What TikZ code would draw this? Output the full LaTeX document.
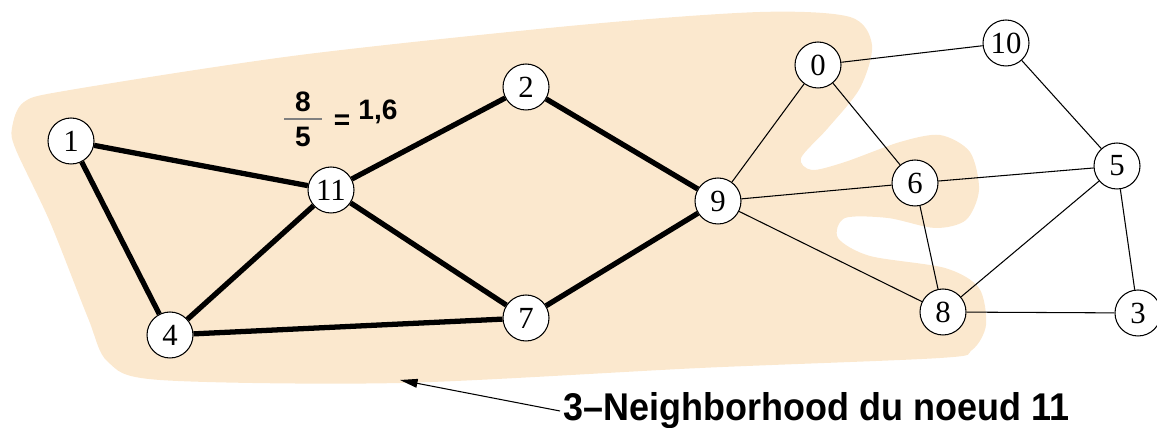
\documentclass[tikz,border=0pt]{standalone}
\usepackage{fontspec}
\setmainfont{Liberation Serif}
\newfontfamily\capfont[Ligatures=TeX]{Liberation Sans}
\usetikzlibrary{arrows.meta, positioning}
\definecolor{peach}{HTML}{FBE8CE}
\definecolor{ink}{HTML}{000000}

\begin{document}
\begin{tikzpicture}[
    x=0.02cm, y=-0.02cm,
    vertex/.style={circle, draw=ink, fill=white, line width=0.6pt,
      minimum size=0.92cm, inner sep=0pt, font=\fontsize{17.5}{20}\selectfont},
    heavy/.style={line width=3pt},
    light/.style={line width=0.6pt},
    ratio/.style={font=\capfont\bfseries\fontsize{16}{19}\selectfont},
  ]
  \useasboundingbox (0,0) rectangle (1157,428);

  % Neighborhood region
  \fill[peach] plot[smooth cycle, tension=0.5] coordinates {
    (12,128) (24,102) (70,90) (300,55) (580,25) (760,12) (850,17)
    (872,45) (860,88) (828,128) (801,158) (812,170) (845,162)
    (900,142) (940,135) (970,152) (979,190) (966,220) (935,228)
    (888,218) (845,218) (838,238) (870,256) (945,268) (979,288)
    (986,325) (972,350) (940,358) (700,368) (400,383) (160,380)
    (108,362) (88,318) (50,222) (16,150)};

  % Vertices
  \node[vertex] (n0)  at (818,65)  {0};
  \node[vertex] (n1)  at (71,141)  {1};
  \node[vertex] (n2)  at (526,87)  {2};
  \node[vertex] (n3)  at (1138,313) {3};
  \node[vertex] (n4)  at (170,335) {4};
  \node[vertex] (n5)  at (1117,166) {5};
  \node[vertex] (n6)  at (915,183) {6};
  \node[vertex] (n7)  at (526,318) {7};
  \node[vertex] (n8)  at (943,312) {8};
  \node[vertex] (n9)  at (718,201) {9};
  \node[vertex] (n10) at (1006,43) {10};
  \node[vertex] (n11) at (331,190) {11};

  % Edges inside the 3-neighborhood
  \draw[heavy] (n1) -- (n11);
  \draw[heavy] (n1) -- (n4);
  \draw[heavy] (n11) -- (n2);
  \draw[heavy] (n11) -- (n4);
  \draw[heavy] (n11) -- (n7);
  \draw[heavy] (n4) -- (n7);
  \draw[heavy] (n2) -- (n9);
  \draw[heavy] (n7) -- (n9);

  % Remaining edges
  \draw[light] (n9) -- (n0);
  \draw[light] (n9) -- (n6);
  \draw[light] (n9) -- (n8);
  \draw[light] (n0) -- (n6);
  \draw[light] (n0) -- (n10);
  \draw[light] (n10) -- (n5);
  \draw[light] (n6) -- (n5);
  \draw[light] (n6) -- (n8);
  \draw[light] (n8) -- (n5);
  \draw[light] (n8) -- (n3);
  \draw[light] (n5) -- (n3);

  % Ratio
  \node[ratio, align=center, minimum width=0.74cm, inner sep=0pt] (frac)
    at (303,119) {8\\[1pt]5};
  \draw[gray, line width=0.6pt] (frac.west) -- (frac.east);
  \node[ratio] (eq) at (342,122) {=};
  \node[ratio] (val) at (378,112) {1,6};

  % Caption
  \node[font=\capfont\bfseries\fontsize{22}{26}\selectfont, anchor=west,
    inner sep=2pt] (caption) at (560,411)
    {\scalebox{0.93}[1]{3--Neighborhood du noeud 11}};
  \coordinate (tip) at (400,380);
  \draw[light, -{Triangle[length=10pt, width=5pt]}] (caption.west) -- (tip);

\end{tikzpicture}
\end{document}
